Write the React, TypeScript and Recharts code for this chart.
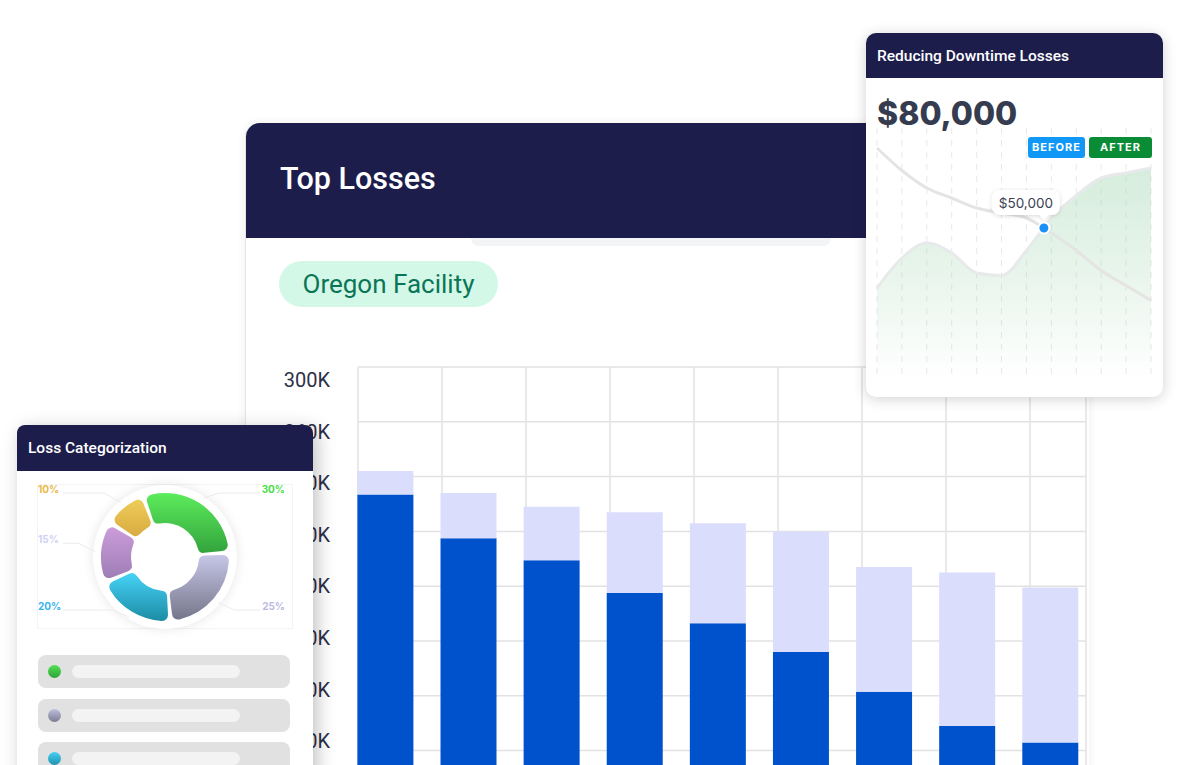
import React from "react";
import {
  BarChart,
  Bar,
  XAxis,
  YAxis,
  CartesianGrid,
  ComposedChart,
  Area,
  Line,
  ReferenceDot,
  PieChart,
  Pie,
  Cell,
} from "recharts";

// Top Losses (stacked, in $)
const lossNames = ["Loss 1", "Loss 2", "Loss 3", "Loss 4", "Loss 5", "Loss 6", "Loss 7", "Loss 8", "Loss 9"];
const lossBase = [207000, 175000, 159000, 135000, 113000, 92000, 63000, 38000, 26000];
const lossExtra = [17000, 33000, 39000, 59000, 73000, 88000, 91000, 112000, 113000];
const gridTicks = [20000, 60000, 100000, 140000, 180000, 220000, 260000, 300000];
const labelTicks = [20000, 60000, 100000, 140000, 180000, 220000, 260000, 300000];
const gridColumns = [0, 1, 2, 3, 4, 5, 6, 7, 8];

// Reducing Downtime Losses
const downtimeSteps = [0, 1, 2, 3, 4, 5, 6, 7, 8, 9, 10, 11];
const afterValues = [36, 48, 54, 50, 42, 41, 51, 64, 73, 80, 82, 84];
const beforeValues = [92, 83, 76, 72, 68, 66, 64, 58, 51, 43, 37, 31];
const markerStep = 6.7;
const markerValue = 60;
const markerLabel = "$50,000";

// Loss Categorization
const categoryNames = ["Category 1", "Category 2", "Category 3", "Category 4", "Category 5"];
const categoryShares = [30, 25, 20, 15, 10];
const sliceGradients = [
  ["#5cec5c", "#33a33c"],
  ["#c6c6e8", "#76768a"],
  ["#46d2f6", "#1c8ca4"],
  ["#cb9cd9", "#9f7eb6"],
  ["#eecd5a", "#d8ab40"],
];
const shareLabelColors = ["#48e048", "#b9badf", "#3ab4ee", "#cfd0f5", "#e8b84a"];

const NAVY = "#1d1d4c";

const lossData = lossNames.map((name, i) => ({ name, col: gridColumns[i], base: lossBase[i], extra: lossExtra[i] }));
const downtimeData = downtimeSteps.map((step, i) => ({ step, after: afterValues[i], before: beforeValues[i] }));
const categoryData = categoryNames.map((name, i) => ({ name, value: categoryShares[i] }));

const formatK = (v: number) => `${Math.round(v / 1000)}K`;

const LossTick = ({ x, y, payload }: any) => (
  <text x={x} y={y + 7} textAnchor="end" fill="#2d3047" fontSize={20} fontFamily="Roboto, sans-serif">
    {formatK(payload.value)}
  </text>
);

const MarkerShape = ({ cx, cy }: any) => (
  <g>
    <g filter="url(#tipShadow)">
      <rect x={cx - 52} y={cy - 38} width={68} height={25} rx={8} fill="#fff" />
      <path d={`M${cx - 5} ${cy - 13.5} L${cx} ${cy - 8} L${cx + 5} ${cy - 13.5} Z`} fill="#fff" />
    </g>
    <text x={cx - 18} y={cy - 20.5} textAnchor="middle" fontSize={13.5} fill="#3a4152" fontFamily="Inter, sans-serif">
      {markerLabel}
    </text>
    <circle cx={cx} cy={cy} r={5.5} fill="#1a8ff5" stroke="#fff" strokeWidth={2} />
  </g>
);

const renderShareLabel = (props: any) => {
  const { cx, cy, midAngle, index } = props;
  const rad = (Math.PI / 180) * midAngle;
  const cos = Math.cos(rad);
  const sin = Math.sin(rad);
  const right = cos >= 0;
  const p1x = cx + 70 * cos;
  const p1y = cy - 70 * sin;
  // upper labels sit on one row, lower labels on another, side ones follow the angle
  const ey = sin > 0.4 ? cy - 64 : sin < -0.4 ? cy + 53 : cy - 86 * sin - 7;
  const ex = p1x + (right ? 16 : -17);
  const endX = right ? cx + 95 : cx - 102;
  return (
    <g key={`lbl-${index}`}>
      <polyline points={`${p1x},${p1y} ${ex},${ey} ${endX},${ey}`} fill="none" stroke="#ebebeb" strokeWidth={1} />
      <text
        x={right ? cx + 120 : cx - 127}
        y={ey}
        textAnchor={right ? "end" : "start"}
        fill={shareLabelColors[index]}
        fontSize={10}
        fontWeight={700}
        fontFamily="Inter, sans-serif"
      >
        {categoryShares[index]}%
      </text>
    </g>
  );
};

const legendDots = [
  ["#52e052", "#2fa33a"],
  ["#bfbfe0", "#7b7b90"],
  ["#46d0f4", "#1f92b0"],
];

export default function App() {
  return (
    <div style={{ position: "fixed", inset: 0, overflow: "hidden", background: "#fff", fontFamily: "Roboto, sans-serif" }}>
      {/* main card */}
      <div
        style={{
          position: "absolute",
          left: 245,
          top: 123,
          width: 843,
          height: 720,
          background: "#fff",
          borderRadius: "14px 14px 0 0",
          boxShadow: "0 0 10px rgba(0,0,0,0.07)",
          borderLeft: "1px solid #e6e6e6",
        }}
      >
        <div style={{ height: 115, background: NAVY, borderRadius: "14px 14px 0 0", position: "relative" }}>
          <div style={{ position: "absolute", left: 34, top: 38, color: "#fff", fontSize: 30.5, fontWeight: 500 }}>Top Losses</div>
        </div>
        <div style={{ position: "absolute", left: 225, top: 115, width: 360, height: 8, background: "#f3f4f6", borderRadius: "0 0 8px 8px" }} />
        <div
          style={{
            position: "absolute",
            left: 33,
            top: 138,
            width: 219,
            height: 46,
            borderRadius: 23,
            background: "#d4f8e7",
            color: "#0b7657",
            fontSize: 26,
            lineHeight: "46px",
            textAlign: "center",
          }}
        >
          Oregon Facility
        </div>
      </div>

      <div style={{ position: "absolute", left: 245, top: 340 }}>
        <BarChart width={845} height={438} data={lossData} margin={{ top: 27, right: 4, bottom: 0, left: 0 }}>
          <XAxis xAxisId="grid" dataKey="col" type="number" domain={[0, 26 / 3]} allowDataOverflow ticks={gridColumns} hide />
          <XAxis xAxisId="cat" dataKey="name" hide padding={{ left: -14.6, right: -5.4 }} />
          <YAxis domain={[0, 300000]} ticks={gridTicks} allowDataOverflow width={0} hide />
          <YAxis
            yAxisId="labels"
            domain={[-8500, 310100]}
            allowDataOverflow
            ticks={labelTicks}
            interval={0}
            width={113}
            axisLine={false}
            tickLine={false}
            tickSize={0}
            tickMargin={28}
            tick={<LossTick />}
          />
          <CartesianGrid xAxisId="grid" stroke="#e2e2e2" strokeWidth={1.5} />
          <Bar xAxisId="cat" dataKey="base" stackId="a" fill="#0052cc" barSize={56} isAnimationActive={false} />
          <Bar xAxisId="cat" dataKey="extra" stackId="a" fill="#dadefc" barSize={56} isAnimationActive={false} />
        </BarChart>
      </div>

      {/* right card */}
      <div
        style={{
          position: "absolute",
          left: 866,
          top: 33,
          width: 297,
          height: 364,
          background: "#fff",
          borderRadius: 10,
          boxShadow: "0 2px 14px rgba(0,0,0,0.18)",
        }}
      >
        <div style={{ height: 45, background: NAVY, borderRadius: "10px 10px 0 0", color: "#fff", fontSize: 15.5, fontWeight: 500, lineHeight: "46px", paddingLeft: 11 }}>
          Reducing Downtime Losses
        </div>
        <div style={{ position: "absolute", left: 11, top: 61, fontFamily: "Inter, sans-serif", fontWeight: 800, fontSize: 32, color: "#363c4f" }}>
          $80,000
        </div>
        <div style={{ position: "absolute", left: 0, top: 87 }}>
          <ComposedChart width={297} height={270} data={downtimeData} margin={{ top: 8, right: 12, bottom: 12, left: 11 }}>
            <defs>
              <linearGradient id="afterFill" x1="0" y1="0" x2="0" y2="1">
                <stop offset="0%" stopColor="#9fd4ae" stopOpacity={0.72} />
                <stop offset="55%" stopColor="#a3d6b2" stopOpacity={0.38} />
                <stop offset="100%" stopColor="#a3d6b2" stopOpacity={0} />
              </linearGradient>
              <filter id="tipShadow" x="-30%" y="-40%" width="160%" height="190%">
                <feDropShadow dx="0" dy="1" stdDeviation="2" floodOpacity="0.15" />
              </filter>
            </defs>
            <XAxis dataKey="step" type="number" domain={[0, 11]} ticks={downtimeSteps} hide />
            <YAxis domain={[0, 100]} hide />
            <CartesianGrid horizontal={false} stroke="#e8e8e8" strokeDasharray="6 6" />
            <Area type="monotone" dataKey="after" stroke="#e7e9ea" strokeWidth={3} fill="url(#afterFill)" isAnimationActive={false} />
            <Line type="monotone" dataKey="before" stroke="#e4e4e4" strokeWidth={3} dot={false} isAnimationActive={false} />
            <ReferenceDot x={markerStep} y={markerValue} r={5} shape={<MarkerShape />} />
          </ComposedChart>
        </div>
        <div style={{ position: "absolute", left: 162, top: 104, width: 57, height: 21, background: "#1197f6", borderRadius: 3, color: "#fff", fontFamily: "Inter, sans-serif", fontSize: 11, fontWeight: 700, letterSpacing: 1, lineHeight: "21px", textAlign: "center" }}>
          BEFORE
        </div>
        <div style={{ position: "absolute", left: 223, top: 104, width: 63, height: 21, background: "#0a8c36", borderRadius: 3, color: "#fff", fontFamily: "Inter, sans-serif", fontSize: 11, fontWeight: 700, letterSpacing: 1, lineHeight: "21px", textAlign: "center" }}>
          AFTER
        </div>
      </div>

      {/* left card */}
      <div
        style={{
          position: "absolute",
          left: 17,
          top: 425,
          width: 296,
          height: 400,
          background: "#fff",
          borderRadius: 8,
          boxShadow: "4px 4px 18px rgba(0,0,0,0.25)",
        }}
      >
        <div style={{ height: 46, background: NAVY, borderRadius: "8px 8px 0 0", color: "#fff", fontSize: 15.5, fontWeight: 500, lineHeight: "47px", paddingLeft: 11 }}>
          Loss Categorization
        </div>
        <div style={{ position: "absolute", left: 20, top: 59, width: 254, height: 143, border: "1px solid #f4f4f4" }} />
        <div style={{ position: "absolute", left: 76, top: 60, width: 144, height: 144, borderRadius: "50%", background: "#fff", boxShadow: "0 0 12px rgba(0,0,0,0.1)" }} />
        <div style={{ position: "absolute", left: 20, top: 59 }}>
          <PieChart width={254} height={143} margin={{ top: 0, right: 0, bottom: 0, left: 0 }}>
            <defs>
              {sliceGradients.map(([a, b], i) => (
                <linearGradient key={i} id={`slice${i}`} x1="0" y1="0" x2="0" y2="1">
                  <stop offset="0%" stopColor={a} />
                  <stop offset="100%" stopColor={b} />
                </linearGradient>
              ))}
            </defs>
            <Pie
              data={categoryData}
              dataKey="value"
              nameKey="name"
              cx={128}
              cy={73}
              innerRadius={34}
              outerRadius={64}
              startAngle={108}
              endAngle={-252}
              paddingAngle={4}
              cornerRadius={6}
              stroke="none"
              label={renderShareLabel}
              labelLine={false}
              isAnimationActive={false}
            >
              {categoryData.map((_, i) => (
                <Cell key={i} fill={`url(#slice${i})`} />
              ))}
            </Pie>
          </PieChart>
        </div>
        {legendDots.map(([a, b], i) => (
          <div key={i} style={{ position: "absolute", left: 21, top: 230 + i * 43.5, width: 252, height: 33, background: "#e1e1e1", borderRadius: 8 }}>
            <div style={{ position: "absolute", left: 10, top: 10, width: 13, height: 13, borderRadius: "50%", background: `linear-gradient(${a}, ${b})` }} />
            <div style={{ position: "absolute", left: 34, top: 10, width: 168, height: 13, borderRadius: 7, background: "#f3f3f3" }} />
          </div>
        ))}
      </div>
    </div>
  );
}
